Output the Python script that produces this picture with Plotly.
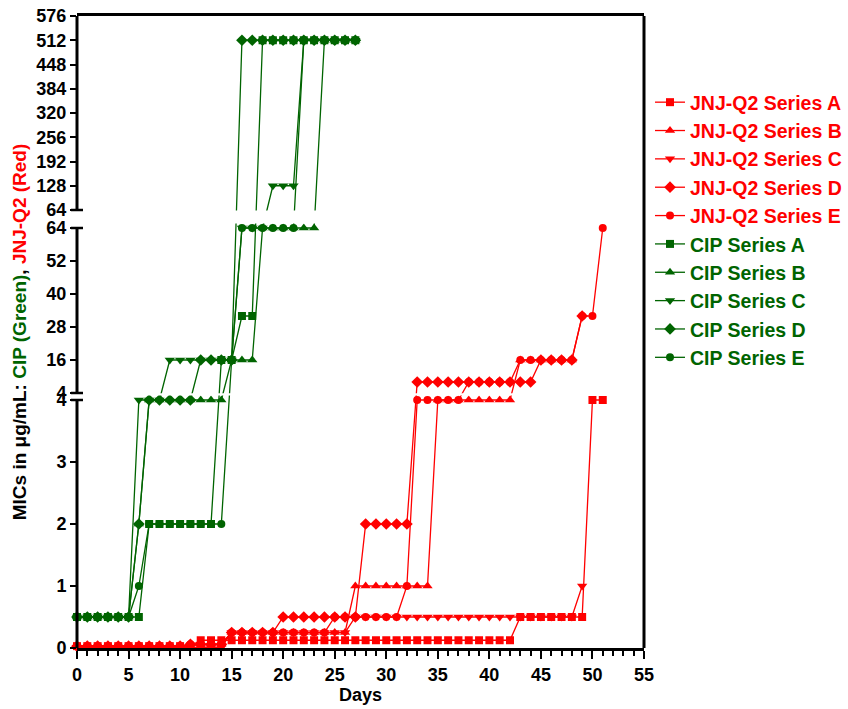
import plotly.graph_objects as go

# ---------------- data (one value per day, starting at day 0) ----------------
jnj_a = [0.03, 0.03, 0.03, 0.03, 0.03, 0.03, 0.03, 0.03, 0.03, 0.03, 0.03, 0.03,
         0.125, 0.125, 0.125, 0.125, 0.125, 0.125, 0.125, 0.125, 0.125, 0.125,
         0.125, 0.125, 0.125, 0.125, 0.125, 0.125, 0.125, 0.125, 0.125, 0.125,
         0.125, 0.125, 0.125, 0.125, 0.125, 0.125, 0.125, 0.125, 0.125, 0.125, 0.125,
         0.5, 0.5, 0.5, 0.5, 0.5, 0.5, 0.5, 4, 4]
jnj_b = [0.03, 0.03, 0.03, 0.03, 0.03, 0.03, 0.03, 0.03, 0.03, 0.03, 0.03, 0.03,
         0.06, 0.06, 0.06,
         0.25, 0.25, 0.25, 0.25, 0.25, 0.25, 0.25, 0.25, 0.25, 0.25, 0.25, 0.25,
         1, 1, 1, 1, 1, 1, 1, 1,
         4, 4, 4, 4, 4, 4, 4, 4,
         16, 16, 16, 16, 16, 16]
jnj_c = [0.008, 0.008, 0.008, 0.008, 0.008, 0.008, 0.008, 0.008, 0.008, 0.008,
         0.008, 0.008, 0.008, 0.008, 0.008,
         0.25, 0.25, 0.25, 0.25, 0.25, 0.25, 0.25, 0.25, 0.25, 0.25, 0.25, 0.25,
         0.5, 0.5, 0.5, 0.5, 0.5, 0.5, 0.5, 0.5, 0.5, 0.5, 0.5, 0.5, 0.5, 0.5,
         0.5, 0.5, 0.5, 0.5, 0.5, 0.5, 0.5, 0.5,
         1]
jnj_d = [0.03, 0.03, 0.03, 0.03, 0.03, 0.03, 0.03, 0.03, 0.03, 0.03, 0.03,
         0.06, 0.06, 0.06, 0.06,
         0.25, 0.25, 0.25, 0.25, 0.25,
         0.5, 0.5, 0.5, 0.5, 0.5, 0.5, 0.5, 0.5,
         2, 2, 2, 2, 2,
         8, 8, 8, 8, 8, 8, 8, 8, 8, 8, 8, 8,
         16, 16, 16, 16,
         32]
jnj_e = [0.03, 0.03, 0.03, 0.03, 0.03, 0.03, 0.03, 0.03, 0.03, 0.03, 0.03,
         0.06, 0.06, 0.06, 0.06,
         0.25, 0.25, 0.25, 0.25, 0.25, 0.25, 0.25, 0.25, 0.25, 0.25,
         0.5, 0.5, 0.5, 0.5, 0.5, 0.5, 0.5,
         1,
         4, 4, 4, 4, 4,
         8, 8, 8, 8, 8,
         16, 16, 16, 16, 16, 16,
         32, 32,
         64]

cip_a = [0.5, 0.5, 0.5, 0.5, 0.5, 0.5, 0.5,
         2, 2, 2, 2, 2, 2, 2,
         16, 16, 32, 32,
         512, 512, 512, 512, 512, 512, 512, 512, 512, 512]
cip_b = [0.5, 0.5, 0.5, 0.5, 0.5, 0.5, 2,
         4, 4, 4, 4, 4, 4, 4, 4,
         16, 16, 16,
         64, 64, 64, 64, 64, 64,
         512, 512, 512, 512]
cip_c = [0.5, 0.5, 0.5, 0.5, 0.5, 0.5,
         4, 4, 4,
         16, 16, 16, 16, 16, 16, 16,
         64, 64, 64,
         128, 128, 128,
         512, 512, 512, 512, 512, 512]
cip_d = [0.5, 0.5, 0.5, 0.5, 0.5, 0.5, 2,
         4, 4, 4, 4, 4,
         16, 16, 16, 16,
         512, 512, 512, 512, 512, 512, 512, 512, 512, 512, 512, 512]
cip_e = [0.5, 0.5, 0.5, 0.5, 0.5, 0.5, 1,
         2, 2, 2, 2, 2, 2, 2, 2,
         16,
         64, 64, 64, 64, 64, 64,
         512, 512, 512, 512, 512, 512]

x_tick_vals = [0, 5, 10, 15, 20, 25, 30, 35, 40, 45, 50, 55]
y_ticks_bottom = [0, 1, 2, 3, 4]
y_ticks_middle = [4, 16, 28, 40, 52, 64]
y_ticks_top = [64, 128, 192, 256, 320, 384, 448, 512, 576]

# ---------------- broken y-axis scale ----------------
# (value_lo, value_hi, display_lo, display_hi)
SEG_BOTTOM = (0, 4, 0, 248)
SEG_MIDDLE = (4, 64, 255, 420)
SEG_TOP = (64, 576, 438, 632)
SEGMENTS = [SEG_BOTTOM, SEG_MIDDLE, SEG_TOP]


def seg_map(v, seg):
    vlo, vhi, dlo, dhi = seg
    return dlo + (v - vlo) * (dhi - dlo) / (vhi - vlo)


def to_display(v):
    for seg in SEGMENTS:
        if v <= seg[1]:
            return seg_map(v, seg)
    return seg_map(v, SEGMENTS[-1])


tickvals, ticktext = [], []
for seg, ticks in ((SEG_BOTTOM, y_ticks_bottom), (SEG_MIDDLE, y_ticks_middle), (SEG_TOP, y_ticks_top)):
    for t in ticks:
        tickvals.append(seg_map(t, seg))
        ticktext.append(str(t))

RED = "#ff0000"
GREEN = "#006400"
FONT = "Liberation Sans, Arial, sans-serif"

# drawing order (bottom -> top) ; legendrank gives legend order
series = [
    ("CIP Series B", cip_b, GREEN, "triangle-up", 7),
    ("CIP Series E", cip_e, GREEN, "circle", 10),
    ("CIP Series C", cip_c, GREEN, "triangle-down", 8),
    ("CIP Series D", cip_d, GREEN, "diamond", 9),
    ("CIP Series A", cip_a, GREEN, "square", 6),
    ("JNJ-Q2 Series C", jnj_c, RED, "triangle-down", 3),
    ("JNJ-Q2 Series B", jnj_b, RED, "triangle-up", 2),
    ("JNJ-Q2 Series E", jnj_e, RED, "circle", 5),
    ("JNJ-Q2 Series D", jnj_d, RED, "diamond", 4),
    ("JNJ-Q2 Series A", jnj_a, RED, "square", 1),
]

fig = go.Figure()
for name, vals, color, symbol, rank in series:
    size = 9 if symbol in ("diamond", "triangle-up", "triangle-down") else 8
    fig.add_trace(go.Scatter(
        x=list(range(len(vals))),
        y=[to_display(v) for v in vals],
        customdata=vals,
        mode="lines+markers",
        name=f'<span style="color:{color}">{name}</span>',
        line=dict(color=color, width=1.3),
        marker=dict(symbol=symbol, size=size, color=color, line=dict(width=0)),
        cliponaxis=False,
        legendrank=rank,
        legendgroup=name,
        hovertemplate="Day %{x}: %{customdata}<extra></extra>",
    ))

PLOT_W = 567
shapes = []
# gaps of the broken axis (whiteout lines passing through)
for y0, y1 in ((252.5, 254.8), (424.5, 437.6)):
    shapes.append(dict(type="rect", xref="paper", yref="y", x0=0.0, x1=0.997, y0=y0, y1=y1,
                       fillcolor="white", line=dict(width=0), layer="above"))
# left axis segments
for seg in SEGMENTS:
    shapes.append(dict(type="line", xref="paper", yref="y", x0=0, x1=0, y0=seg[2], y1=seg[3],
                       line=dict(color="black", width=3), layer="above"))
# caps at the breaks
cap = 6 / PLOT_W
for yv in (SEG_BOTTOM[3], SEG_MIDDLE[2], SEG_MIDDLE[3], SEG_TOP[2]):
    shapes.append(dict(type="line", xref="paper", yref="y", x0=-cap, x1=cap, y0=yv, y1=yv,
                       line=dict(color="black", width=2.5), layer="above"))
# right border
shapes.append(dict(type="line", xref="paper", yref="paper", x0=1, x1=1, y0=0, y1=1,
                   line=dict(color="black", width=3), layer="above"))

fig.update_layout(
    width=848, height=709,
    margin=dict(l=77, r=204, t=16, b=61, autoexpand=False),
    paper_bgcolor="white", plot_bgcolor="white",
    font=dict(family=FONT, color="black", size=18, weight="bold"),
    showlegend=True,
    legend=dict(x=1.0106, xanchor="left", y=0.894, yanchor="top",
                font=dict(family=FONT, size=19.5, weight="bold"),
                bgcolor="rgba(0,0,0,0)", traceorder="grouped", tracegroupgap=0,
                itemwidth=30),
    shapes=shapes,
    xaxis=dict(
        range=[0, 55], tickmode="linear", tick0=0, dtick=5,
        ticks="outside", ticklen=8, tickwidth=2, tickcolor="black",
        minor=dict(dtick=1, tick0=0, ticks="outside", ticklen=5, tickwidth=2, tickcolor="black"),
        showline=True, linewidth=3, linecolor="black", mirror=True,
        showgrid=False, zeroline=False, automargin=False, ticklabeloverflow="allow",
        tickfont=dict(family=FONT, size=18, weight="bold"),
        title=dict(text="Days", font=dict(family=FONT, size=18, weight="bold"), standoff=3),
    ),
    yaxis=dict(
        range=[0, 632], tickmode="array", tickvals=tickvals, ticktext=ticktext,
        ticks="outside", ticklen=6, tickwidth=2, tickcolor="black",
        showline=False, showgrid=False, zeroline=False, automargin=False,
        ticklabeloverflow="allow",
        tickfont=dict(family=FONT, size=18, weight="bold"),
        title=dict(text='MICs in μg/mL: <span style="color:#006400">CIP (Green)</span>, '
                        '<span style="color:#ff0000">JNJ-Q2 (Red)</span>',
                   font=dict(family=FONT, size=19, weight="bold"), standoff=4),
    ),
)

# remove the default page margin so the 848x709 figure fills the window exactly
fig.write_html("out.html", config={"displayModeBar": False},
               post_script="document.body.style.margin='0px';")
